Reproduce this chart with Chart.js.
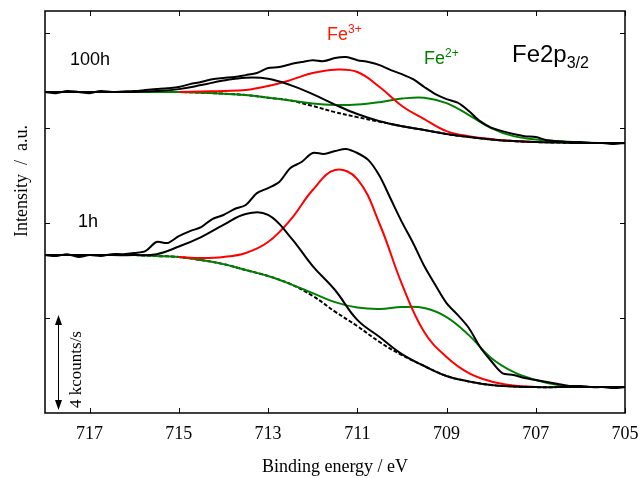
<!DOCTYPE html>
<html>
<head>
<meta charset="utf-8">
<script src="https://cdn.jsdelivr.net/npm/chart.js@4.4.1/dist/chart.umd.min.js"></script>
<style>
  html, body { margin: 0; padding: 0; background: #fff; }
  #wrap { width: 641px; height: 478px; position: relative; }
</style>
</head>
<body>
<div id="wrap"><canvas id="c" width="641" height="478"></canvas></div>
<script>
// ---------- data (binding energy in eV, intensity in kcounts/s) ----------
const energyFine = [718,717.75,717.5,717.25,717,716.75,716.5,716.25,716,715.75,715.5,715.25,715,714.75,714.5,714.25,714,713.75,713.5,713.25,713,712.75,712.5,712.25,712,711.75,711.5,711.25,711,710.75,710.5,710.25,710,709.75,709.5,709.25,709,708.75,708.5,708.25,708,707.75,707.5,707.25,707,706.75,706.5,706.25,706,705.75,705.5,705.25,705];
const energyCoarse = [718,717.5,717,716.5,716,715.5,715,714.5,714,713.5,713,712.5,712,711.5,711,710.5,710,709.5,709,708.5,708,707.5,707,706.5,706,705.5,705];
const energyFe3 = [715,714.5,714,713.5,713,712.5,712,711.5,711,710.5,710,709.5,709,708.5,708,707.5,707];
const energyFe2 = [716,715.5,715,714.5,714,713.5,713,712.5,712,711.5,711,710.5,710,709.5,709,708.5,708,707.5,707,706.5,706,705.5,705];

// 100h spectrum
const raw100h = [13.52,13.47,13.56,13.52,13.47,13.56,13.52,13.54,13.56,13.60,13.64,13.68,13.73,13.85,13.94,14.06,14.11,14.15,14.23,14.32,14.53,14.57,14.69,14.78,14.86,14.82,14.95,14.99,14.86,14.78,14.65,14.44,14.27,14.06,13.73,13.43,13.22,13.07,12.72,12.29,12.02,11.87,11.75,11.66,11.62,11.49,11.45,11.41,11.41,11.37,11.37,11.33,11.37];
const bg100h = [13.52,13.52,13.52,13.52,13.52,13.52,13.52,13.49,13.45,13.39,13.28,13.16,12.93,12.67,12.46,12.27,12.08,11.92,11.75,11.62,11.52,11.45,11.41,11.39,11.37,11.37,11.37];
const sat100h = [13.52,13.52,13.52,13.52,13.52,13.56,13.64,13.81,14.00,14.12,14.08,13.81,13.43,12.99,12.59,12.29,12.08,11.92,11.75,11.62,11.52,11.45,11.41,11.39,11.37,11.37,11.37];
const fe3_100h = [13.52,13.54,13.56,13.60,13.77,14.02,14.32,14.46,14.36,13.73,12.93,12.38,11.87,11.66,11.54,11.45,11.41];
const fe2_100h = [13.52,13.52,13.52,13.49,13.45,13.39,13.28,13.16,13.03,12.97,12.99,13.09,13.24,13.28,13.05,12.55,12.00,11.66,11.52,11.45,11.39,11.37,11.37];

// 1h spectrum
const raw1h = [6.65,6.61,6.69,6.57,6.65,6.61,6.69,6.69,6.74,6.82,7.20,7.16,7.45,7.66,7.83,8.17,8.34,8.59,8.76,9.26,9.47,9.73,10.32,10.57,10.95,10.91,11.03,11.12,10.95,10.65,9.98,9.01,8.04,7.16,6.19,5.39,4.63,4.13,3.58,2.78,2.19,1.68,1.60,1.47,1.39,1.31,1.22,1.14,1.14,1.09,1.09,1.05,1.09];
const bg1h = [6.65,6.65,6.65,6.65,6.65,6.61,6.57,6.44,6.27,6.02,5.77,5.43,4.93,4.27,3.66,2.99,2.44,1.98,1.56,1.33,1.18,1.12,1.09,1.09,1.09,1.09,1.09];
const sat1h = [6.65,6.65,6.65,6.65,6.65,6.69,7.01,7.41,7.92,8.38,8.34,7.41,6.19,5.18,3.92,3.20,2.48,1.98,1.56,1.33,1.18,1.12,1.09,1.09,1.09,1.09,1.09];
const fe3_1h = [6.57,6.53,6.57,6.74,7.20,8.13,9.39,10.23,9.85,7.96,5.43,3.41,2.36,1.68,1.33,1.16,1.09];
const fe2_1h = [6.65,6.61,6.57,6.44,6.27,6.02,5.77,5.43,5.05,4.67,4.44,4.38,4.46,4.42,4.04,3.28,2.32,1.73,1.39,1.18,1.12,1.09,1.09];

const xTicks = [717,715,713,711,709,707,705];
const yTicks = [4,8,12,16];
const scaleBar = 4; // kcounts/s

// ---------- build ----------
const pts = (xs, ys) => xs.map((x, i) => ({x, y: ys[i]}));
const RED = '#ff0000', GREEN = '#008000', BLACK = '#000000';

function ds(xs, ys, color, opts) {
  return Object.assign({
    data: pts(xs, ys), borderColor: color, backgroundColor: color,
    borderWidth: 2, pointRadius: 0, fill: false, tension: 0.4
  }, opts || {});
}

const datasets = [
  ds(energyFine, raw100h, BLACK, {tension: 0.3}),
  ds(energyFine, raw1h, BLACK, {tension: 0.3}),
  ds(energyCoarse, sat100h, BLACK),
  ds(energyCoarse, sat1h, BLACK),
  ds(energyFe3, fe3_100h, RED),
  ds(energyFe3, fe3_1h, RED),
  ds(energyFe2, fe2_100h, GREEN),
  ds(energyFe2, fe2_1h, GREEN),
  ds(energyCoarse, bg100h, BLACK, {borderDash: [4, 2]}),
  ds(energyCoarse, bg1h, BLACK, {borderDash: [4, 2]})
];

const SERIF = '"Liberation Serif", "Times New Roman", serif';
const SANS = '"Liberation Sans", Arial, sans-serif';

const decor = {
  id: 'decor',
  afterDraw(chart) {
    const {ctx, chartArea: a, scales: {x, y}} = chart;
    ctx.save();
    ctx.strokeStyle = '#000';
    ctx.lineWidth = 1.5;
    ctx.strokeRect(a.left, a.top, a.right - a.left, a.bottom - a.top);
    ctx.lineWidth = 1;
    ctx.beginPath();
    xTicks.forEach(v => {
      const px = Math.round(x.getPixelForValue(v)) + 0.5;
      ctx.moveTo(px, a.bottom); ctx.lineTo(px, a.bottom - 5);
      ctx.moveTo(px, a.top); ctx.lineTo(px, a.top + 5);
    });
    yTicks.forEach(v => {
      const py = Math.round(y.getPixelForValue(v)) + 0.5;
      ctx.moveTo(a.left, py); ctx.lineTo(a.left + 5, py);
      ctx.moveTo(a.right, py); ctx.lineTo(a.right - 5, py);
    });
    ctx.stroke();

    // scale bar (4 kcounts/s)
    const bx = Math.round(x.getPixelForValue(717.7)) + 0.5;
    const yt = y.getPixelForValue(scaleBar) - 3;
    const yb = y.getPixelForValue(0) - 3;
    ctx.beginPath();
    ctx.moveTo(bx, yt + 8); ctx.lineTo(bx, yb - 8); ctx.stroke();
    ctx.fillStyle = '#000';
    ctx.beginPath();
    ctx.moveTo(bx, yt); ctx.lineTo(bx - 3.5, yt + 10); ctx.lineTo(bx + 3.5, yt + 10); ctx.closePath(); ctx.fill();
    ctx.beginPath();
    ctx.moveTo(bx, yb); ctx.lineTo(bx - 3.5, yb - 10); ctx.lineTo(bx + 3.5, yb - 10); ctx.closePath(); ctx.fill();

    // rotated texts
    ctx.save();
    ctx.translate(81, 408);
    ctx.rotate(-Math.PI / 2);
    ctx.font = '17px ' + SERIF;
    ctx.textAlign = 'left'; ctx.textBaseline = 'alphabetic';
    ctx.fillText('4 kcounts/s', 0, 0);
    ctx.restore();

    ctx.save();
    ctx.translate(27, 237);
    ctx.rotate(-Math.PI / 2);
    ctx.font = '18px ' + SERIF;
    ctx.textAlign = 'left'; ctx.textBaseline = 'alphabetic';
    ctx.fillText('Intensity  /  a.u.', 0, 0);
    ctx.restore();

    // labels
    ctx.textAlign = 'left'; ctx.textBaseline = 'alphabetic';
    ctx.fillStyle = '#000';
    ctx.font = '18px ' + SANS;
    ctx.fillText('100h', 70, 65);
    ctx.fillText('1h', 78, 227);

    function supText(base, sup, x0, yb, size, supSize, supRise, color) {
      ctx.fillStyle = color;
      ctx.font = size + 'px ' + SANS;
      ctx.fillText(base, x0, yb);
      const w = ctx.measureText(base).width;
      ctx.font = supSize + 'px ' + SANS;
      ctx.fillText(sup, x0 + w, yb - supRise);
    }
    supText('Fe', '3+', 327, 40, 18, 12, 7, '#ff1a00');
    supText('Fe', '2+', 424, 64, 18, 12, 7, GREEN);
    supText('Fe2p', '3/2', 512, 62, 24, 16, -6, '#000');
    ctx.restore();
  }
};

new Chart(document.getElementById('c'), {
  type: 'line',
  data: { datasets },
  plugins: [decor],
  options: {
    responsive: false,
    animation: false,
    events: [],
    layout: { padding: { top: 11, right: 16, left: 0, bottom: 0 } },
    plugins: { legend: { display: false }, tooltip: { enabled: false } },
    scales: {
      x: {
        type: 'linear', min: 705, max: 718, reverse: true,
        afterBuildTicks: s => { s.ticks = xTicks.map(v => ({value: v})); },
        afterFit: s => { s.height = 65; s.paddingLeft = 0; s.paddingRight = 0; },
        grid: { display: false, drawTicks: false },
        border: { display: false },
        ticks: { color: '#000', font: { family: SERIF, size: 18 }, padding: 10, maxRotation: 0, autoSkip: false,
                 callback: v => String(v) },
        title: { display: true, text: 'Binding energy / eV', color: '#000',
                 font: { family: SERIF, size: 18 }, padding: { top: 0, bottom: 0 } }
      },
      y: {
        type: 'linear', min: 0, max: 16.93,
        afterBuildTicks: s => { s.ticks = yTicks.map(v => ({value: v})); },
        afterFit: s => { s.width = 45; s.paddingTop = 0; s.paddingBottom = 0; },
        grid: { display: false, drawTicks: false },
        border: { display: false },
        ticks: { display: false }
      }
    }
  }
});
</script>
</body>
</html>
